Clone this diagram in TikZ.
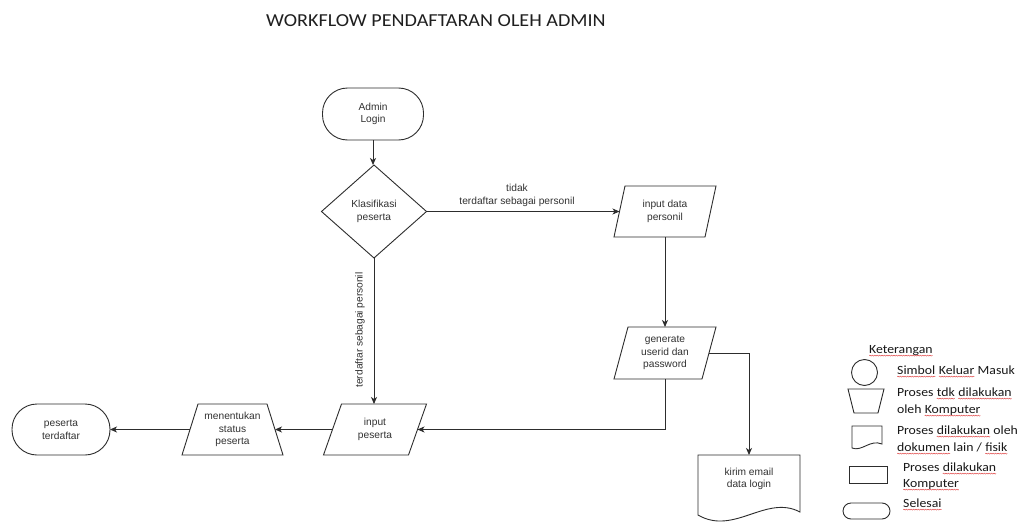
\documentclass[tikz,border=0pt]{standalone}
\usepackage{fontspec}
\setmainfont{Carlito}
\newfontfamily\calw[FakeStretch=1.1]{Carlito}
\newfontfamily\arialf{Liberation Sans}
\usetikzlibrary{arrows.meta,shapes.geometric,decorations.pathmorphing}
\definecolor{ln}{RGB}{45,45,45}
\definecolor{tx}{RGB}{50,50,50}
\definecolor{sqred}{RGB}{225,70,70}
\newcommand\sq[1]{\tikz[baseline=(sqw.base)]{\node[inner sep=0pt,outer sep=0pt,anchor=base] (sqw) at (0,0) {#1};\draw[sqred,line width=0.45pt,decorate,decoration={snake,amplitude=0.5pt,segment length=2.4pt}] ([yshift=-2.6pt]sqw.base west) -- ([yshift=-2.6pt]sqw.base east);}}
\begin{document}
\begin{tikzpicture}[x=1pt,y=-1pt,
  shp/.style={draw=ln,line width=0.9pt},
  fc/.style={font=\arialf\fontsize{10.2}{12.5}\selectfont, text=tx, align=center, inner sep=0pt, outer sep=0pt},
  arr/.style={draw=ln,line width=0.9pt,-{Stealth[length=7pt,width=6pt,inset=2pt]}},
  lg/.style={font=\calw\fontsize{12.5}{14}\selectfont, text=black!90, anchor=base west, inner sep=0pt, outer sep=0pt},
]
\useasboundingbox (0,0) rectangle (1028,522);
\fill[white] (0,0) rectangle (1028,522);

% title
\node[font=\calw\fontsize{18.3}{20}\selectfont, text=black!88, anchor=base west, inner sep=0pt] (title) at (266,26) {WORKFLOW PENDAFTARAN OLEH ADMIN};

% flowchart nodes
\node[fc, shp, rounded corners=25pt, minimum width=101pt, minimum height=52pt] (login) at (373,114) {Admin\\Login};
\node[fc, shp, diamond, minimum width=105pt, minimum height=93pt] (klas) at (374,211.5) {Klasifikasi\\peserta};

\node[fc, minimum width=91pt, minimum height=51pt] (inpd) at (665,211.5) {input data\\personil};
\draw[shp] ([xshift=5.5pt]inpd.north west) -- ([xshift=5.5pt]inpd.north east) -- ([xshift=-5.5pt]inpd.south east) -- ([xshift=-5.5pt]inpd.south west) -- cycle;

\node[fc, minimum width=88pt, minimum height=52pt] (gen) at (665,353) {generate\\userid dan\\password};
\draw[shp] ([xshift=7pt]gen.north west) -- ([xshift=7pt]gen.north east) -- ([xshift=-7pt]gen.south east) -- ([xshift=-7pt]gen.south west) -- cycle;

\node[fc, minimum width=102pt, minimum height=48pt] (kirim) at (749,479) {kirim email\\data login};
\draw[shp] (698,455) -- (800,455) -- (800,512) .. controls (766,494) and (734,536) .. (698,515) -- cycle;

\node[fc, minimum width=85pt, minimum height=51pt] (inps) at (375,429.5) {input\\peserta};
\draw[shp] ([xshift=9pt]inps.north west) -- ([xshift=9pt]inps.north east) -- ([xshift=-9pt]inps.south east) -- ([xshift=-9pt]inps.south west) -- cycle;

\node[fc, minimum width=85pt, minimum height=51pt] (ment) at (232.5,429.5) {menentukan\\status\\peserta};
\draw[shp] ([xshift=8pt]ment.north west) -- ([xshift=-8pt]ment.north east) -- ([xshift=8pt]ment.south east) -- ([xshift=-8pt]ment.south west) -- cycle;

\node[fc, shp, rounded corners=25pt, minimum width=98pt, minimum height=51pt] (terd) at (61,429.5) {peserta\\terdaftar};

% connectors
\draw[arr] (login.south) -- (login.south |- klas.north);
\draw[arr] (klas.east) -- (klas.east -| inpd.west);
\draw[arr] (klas.south) -- (klas.south |- inps.north);
\draw[arr] (inpd.south) -- (gen.north);
\draw[arr] (gen.east) -| (kirim.north);
\draw[arr] (gen.south) |- (inps.east);
\draw[arr] (inps.west) -- (ment.east);
\draw[arr] (ment.west) -- (terd.east);

% connector labels
\node[fc] (lt) at (517,195.5) {tidak\\terdaftar sebagai personil};
\node[fc, rotate=90] (ly) at (360,330) {terdaftar sebagai personil};

% legend shapes
\draw[shp] (864.5,372.5) circle (13);
\draw[shp] (848,389) -- (884,389) -- (878,413) -- (854,413) -- cycle;
\draw[shp] (852,426) -- (882,426) -- (882,444) .. controls (870,439) and (862,452) .. (852,448) -- cycle;
\draw[shp] (849,466) rectangle (887,483);
\draw[shp, rounded corners=8pt] (843,503) rectangle (890,519);

% legend texts
\node[lg] (k0) at (869,353) {\sq{Keterangan}};
\node[lg] (k1) at (897,374) {\sq{Simbol} \sq{Keluar} Masuk};
\node[lg] (k2) at (897,396) {Proses \sq{tdk} \sq{dilakukan}};
\node[lg] (k3) at (897,413) {oleh \sq{Komputer}};
\node[lg] (k4) at (897,434) {Proses \sq{dilakukan} oleh};
\node[lg] (k5) at (897,451) {\sq{dokumen} lain / \sq{fisik}};
\node[lg] (k6) at (903,471) {Proses \sq{dilakukan}};
\node[lg] (k7) at (903,487) {\sq{Komputer}};
\node[lg] (k8) at (903,507) {\sq{Selesai}};
\end{tikzpicture}
\end{document}
